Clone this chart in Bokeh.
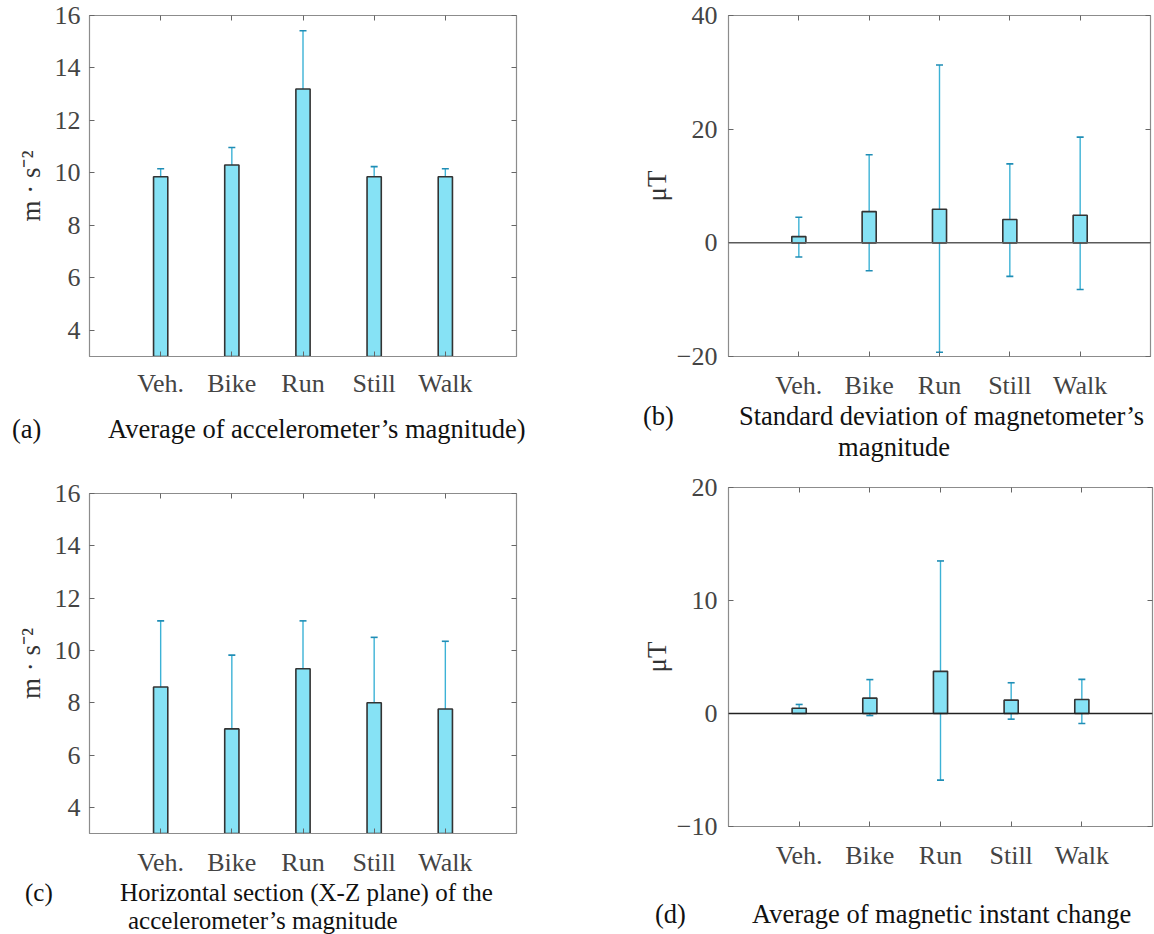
from bokeh.plotting import figure
from bokeh.models import (ColumnDataSource, Whisker, TeeHead, Span, Div,
                          FixedTicker, LinearAxis, Range1d)
from bokeh.layouts import column, row
from bokeh.embed import file_html
from bokeh.resources import INLINE

# ---------------- data ----------------
categories = ["Veh.", "Bike", "Run", "Still", "Walk"]

# (a) Average of accelerometer's magnitude  [m s^-2]
acc_mean = [9.85, 10.3, 13.2, 9.85, 9.85]
acc_low = [9.56, 9.71, 11.0, 9.52, 9.56]
acc_high = [10.16, 10.97, 15.42, 10.24, 10.16]

# (b) Standard deviation of magnetometer's magnitude  [uT]
mstd_mean = [1.1, 5.5, 5.9, 4.1, 4.85]
mstd_low = [-2.5, -4.9, -19.25, -5.9, -8.2]
mstd_high = [4.5, 15.5, 31.3, 13.9, 18.6]

# (c) Horizontal section (X-Z plane) of the accelerometer's magnitude  [m s^-2]
hz_mean = [8.6, 7.0, 9.3, 8.0, 7.76]
hz_low = [6.04, 4.08, 7.56, 5.53, 5.08]
hz_high = [11.13, 9.82, 11.13, 10.5, 10.35]

# (d) Average of magnetic instant change  [uT]
mchg_mean = [0.47, 1.36, 3.73, 1.18, 1.24]
mchg_low = [0.12, -0.18, -5.9, -0.5, -0.89]
mchg_high = [0.8, 3.0, 13.5, 2.72, 3.02]

acc_ticks = [4, 6, 8, 10, 12, 14, 16]
mstd_ticks = [-20, 0, 20, 40]
mchg_ticks = [-10, 0, 10, 20]

cap_a = ["(a)", "Average of accelerometer’s magnitude)"]
cap_b = ["(b)", "Standard deviation of magnetometer’s", "magnitude"]
cap_c = ["(c)", "Horizontal section (X-Z plane) of the", "accelerometer’s magnitude"]
cap_d = ["(d)", "Average of magnetic instant change"]

# ---------------- style ----------------
FONT = "Liberation Serif"
BAR_FILL = "#86e2f5"
BAR_LINE = "#333333"
ERR = "#3cb2d6"
ERR_CAP = "#1f8db5"
AXIS = "#8c8c8c"
TICK_TXT = "#444444"


def mirror_axis(ticks):
    return LinearAxis(ticker=FixedTicker(ticks=ticks),
                      major_label_overrides={t: "" for t in ticks},
                      major_label_text_font_size="0px", major_label_standoff=0,
                      major_tick_in=5, major_tick_out=0,
                      major_tick_line_color="#666666",
                      minor_tick_line_color=None, axis_line_color=None)


def panel(means, lows, highs, yr, yticks, ylabel, zero_color, g,
          ylab_standoff, ytick_standoff, xtick_standoff):
    n = len(categories)
    xs = list(range(1, n + 1))
    p = figure(frame_width=g["fw"], frame_height=g["fh"],
               x_range=Range1d(0, n + 1), y_range=Range1d(*yr),
               output_backend="svg", toolbar_location=None, tools="")
    p.min_border_left = g["left"]
    p.min_border_top = g["top"]
    p.min_border_right = g["right"]
    p.min_border_bottom = g["bottom"]
    p.background_fill_color = "white"
    p.border_fill_color = "white"
    p.outline_line_color = AXIS
    p.outline_line_width = 1.2
    p.xgrid.visible = False
    p.ygrid.visible = False

    src = ColumnDataSource(dict(x=xs, top=means, lower=lows, upper=highs))
    p.vbar(x="x", top="top", bottom=0, width=0.2, source=src,
           fill_color=BAR_FILL, line_color=BAR_LINE, line_width=1.6)
    if zero_color:
        p.add_layout(Span(location=0, dimension="width",
                          line_color=zero_color, line_width=1.5))
    p.add_layout(Whisker(source=src, base="x", upper="upper", lower="lower",
                         dimension="height", line_color=ERR, line_width=1.4,
                         upper_head=TeeHead(size=7, line_color=ERR_CAP, line_width=1.6),
                         lower_head=TeeHead(size=7, line_color=ERR_CAP, line_width=1.6)))

    xa = p.xaxis[0]
    xa.ticker = FixedTicker(ticks=xs)
    xa.major_label_overrides = {x: c for x, c in zip(xs, categories)}
    xa.axis_line_color = AXIS
    xa.major_tick_in = 5
    xa.major_tick_out = 0
    xa.major_tick_line_color = "#666666"
    xa.minor_tick_line_color = None
    xa.major_label_standoff = xtick_standoff
    xa.major_label_text_font = FONT
    xa.major_label_text_font_size = "26px"
    xa.major_label_text_color = TICK_TXT

    ya = p.yaxis[0]
    ya.ticker = FixedTicker(ticks=yticks)
    ya.axis_line_color = AXIS
    ya.major_tick_in = 5
    ya.major_tick_out = 0
    ya.major_tick_line_color = "#666666"
    ya.minor_tick_line_color = None
    ya.major_label_standoff = ytick_standoff
    ya.major_label_text_font = FONT
    ya.major_label_text_font_size = "26px"
    ya.major_label_text_color = TICK_TXT
    ya.axis_label = ylabel
    ya.axis_label_text_font = FONT
    ya.axis_label_text_font_size = "27px"
    ya.axis_label_text_font_style = "normal"
    ya.axis_label_text_color = "#333333"
    ya.axis_label_standoff = ylab_standoff

    p.add_layout(mirror_axis(xs), "above")
    p.add_layout(mirror_axis(yticks), "right")
    return p


def caption_div(x0, y0, w, h, items, size="26.5px"):
    spans = []
    for txt, sx, sy, align in items:
        left = sx - x0
        top = sy - y0 - 13
        shift = "transform:translateX(-50%);" if align == "center" else ""
        spans.append(
            f'<span style="position:absolute;left:{left}px;top:{top}px;{shift}'
            f'white-space:nowrap;line-height:24px;">{txt}</span>')
    html = (f'<div style="position:relative;width:{w}px;height:{h}px;'
            f'font-family:\'{FONT}\';font-size:{size};color:#111111;">'
            + "".join(spans) + "</div>")
    return Div(text=html, width=w, height=h, margin=0)


# geometry (screen pixels; page origin at top-left)
ga = dict(left=89, top=15, fw=427, fh=341, right=64, bottom=46)     # 0..402
gb = dict(left=146, top=15, fw=422, fh=341, right=6, bottom=46)     # 0..402
gc = dict(left=88, top=25, fw=427, fh=340, right=65, bottom=43)     # 468..876
gd = dict(left=148, top=21, fw=424, fh=339, right=2, bottom=48)     # 466..874

pa = panel(acc_mean, acc_low, acc_high, (3, 16), acc_ticks, "m · s⁻²", None, ga, 6, 9, 12)
pb = panel(mstd_mean, mstd_low, mstd_high, (-20, 40), mstd_ticks, "μT", "#5a5a5a", gb, 2, 11, 14)
pc = panel(hz_mean, hz_low, hz_high, (3, 16), acc_ticks, "m · s⁻²", None, gc, 6, 9, 14)
pd = panel(mchg_mean, mchg_low, mchg_high, (-10, 20), mchg_ticks, "μT", "#222222", gd, 2, 11, 14)

sa = caption_div(0, 402, 580, 66, [(cap_a[0], 12, 430, "left"), (cap_a[1], 108, 430, "left")])
sb = caption_div(580, 402, 574, 64, [(cap_b[0], 643, 417, "left"), (cap_b[1], 739, 417, "left"),
                                     (cap_b[2], 894, 448, "center")])
sc = caption_div(0, 876, 580, 58, [(cap_c[0], 25, 891, "left"), (cap_c[1], 120, 891, "left"),
                                   (cap_c[2], 128, 919, "left")], size="25px")
sd = caption_div(580, 874, 574, 60, [(cap_d[0], 655, 915, "left"), (cap_d[1], 752, 915, "left")])

layout = row(column(pa, sa, pc, sc), column(pb, sb, pd, sd))
open("out.html", "w").write(file_html(layout, INLINE))
